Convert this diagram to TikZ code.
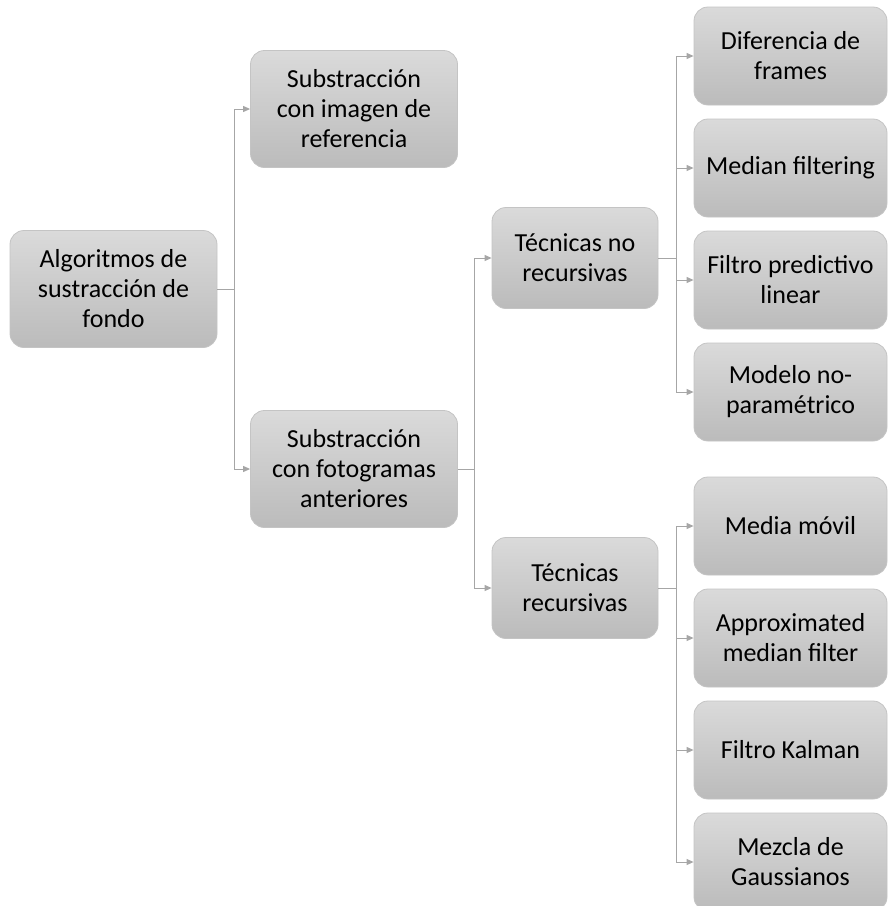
\documentclass[tikz,border=0pt]{standalone}
\usepackage{fontspec}
\setmainfont{Carlito}
\usetikzlibrary{arrows.meta}
\definecolor{boxtop}{HTML}{DADADA}
\definecolor{boxbot}{HTML}{BBBBBB}
\definecolor{boxline}{HTML}{C4C4C4}
\definecolor{connline}{HTML}{A6A6A6}
\tikzset{
  catbox/.style={rectangle, rounded corners=14pt, draw=boxline, line width=0.8pt,
    top color=boxtop, bottom color=boxbot, align=center,
    font=\fontsize{26pt}{30pt}\selectfont, text=black, inner sep=0pt},
  wide/.style={catbox, minimum width=207pt, minimum height=117pt},
  mid/.style={catbox, minimum width=166pt, minimum height=101pt},
  leaf/.style={catbox, minimum width=193pt, minimum height=98pt},
  conn/.style={draw=connline, line width=1pt},
  arr/.style={conn, -{Triangle[length=7pt,width=6pt]}}
}
\begin{document}
\begin{tikzpicture}[x=1pt,y=-1pt]
\useasboundingbox (0,0) rectangle (888,906);

% first level
\node[wide] (root) at (113.5,289) {Algoritmos de\\sustracción de\\fondo};
% second level
\node[wide] (ref)  at (354,109) {Substracción\\con imagen de\\referencia};
\node[wide] (prev) at (354,469) {Substracción\\con fotogramas\\anteriores};
% third level
\node[mid] (nrec) at (575,258) {Técnicas no\\recursivas};
\node[mid] (rec)  at (575,588) {Técnicas\\recursivas};
% leaves
\node[leaf] (dif) at (790.5,56)  {Diferencia de\\frames};
\node[leaf] (med) at (790.5,168) {Median filtering};
\node[leaf] (lin) at (790.5,280) {Filtro predictivo\\linear};
\node[leaf] (npm) at (790.5,392) {Modelo no-\\paramétrico};
\node[leaf] (mov) at (790.5,526) {Media móvil};
\node[leaf] (amf) at (790.5,638) {Approximated\\median filter};
\node[leaf] (kal) at (790.5,750) {Filtro Kalman};
\node[leaf] (gau) at (790.5,862) {Mezcla de\\Gaussianos};

% branching points
\coordinate (j1) at (234,289);
\coordinate (j2) at (474,469);
\coordinate (j3) at (676,258);
\coordinate (j4) at (676,588);

% connectors
\draw[conn] (root.east) -- (j1);
\draw[arr] (j1) |- (ref.west);
\draw[arr] (j1) |- (prev.west);

\draw[conn] (prev.east) -- (j2);
\draw[arr] (j2) |- (nrec.west);
\draw[arr] (j2) |- (rec.west);

\draw[conn] (nrec.east) -- (j3);
\foreach \t in {dif,med,lin,npm} \draw[arr] (j3) |- (\t.west);

\draw[conn] (rec.east) -- (j4);
\foreach \t in {mov,amf,kal,gau} \draw[arr] (j4) |- (\t.west);
\end{tikzpicture}
\end{document}
